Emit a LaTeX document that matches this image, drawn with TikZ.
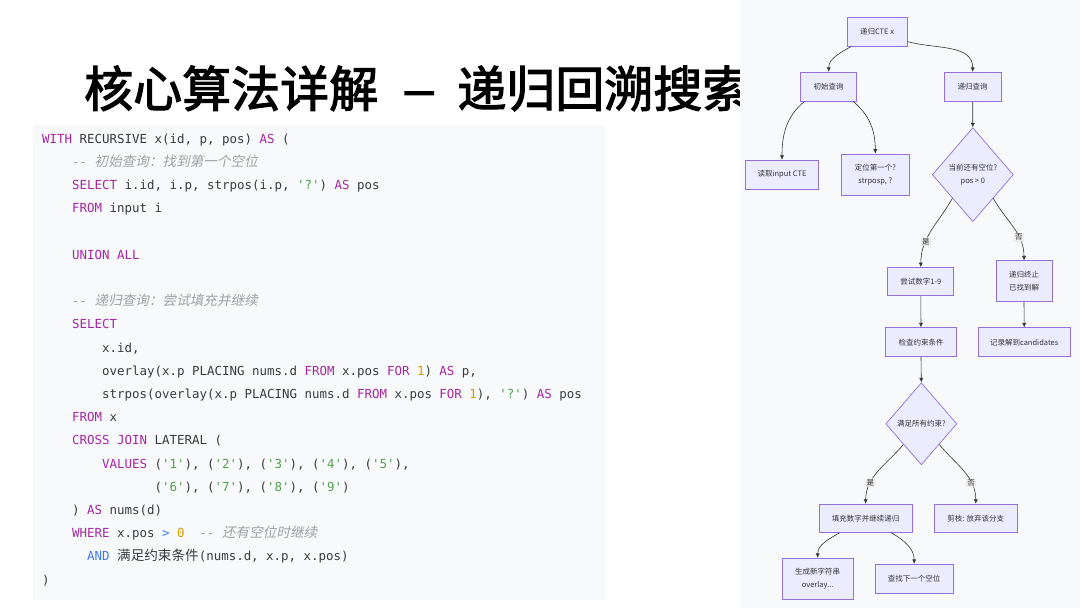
\documentclass[tikz,border=0pt]{standalone}
\usepackage{fontspec}
\usepackage{xcolor}
\setmonofont{DejaVu Sans Mono}
\newfontfamily\cjkfont{Noto Sans CJK SC}
\newfontfamily\cjkslant{Noto Sans CJK SC}[FakeSlant=0.2]
\newfontfamily\titlefont{Noto Sans CJK SC}[FakeBold=2.4]
\usetikzlibrary{arrows.meta,shapes.geometric}

\definecolor{kwcol}{HTML}{A626A4}
\definecolor{strcol}{HTML}{50A14F}
\definecolor{numcol}{HTML}{D49A00}
\definecolor{opcol}{HTML}{4078F2}
\definecolor{cmtcol}{HTML}{A0A1A7}
\definecolor{codetxt}{HTML}{383A42}
\definecolor{codebg}{HTML}{F8F9FA}
\definecolor{flowbg}{HTML}{F8F9FB}
\definecolor{nodefill}{HTML}{ECECFF}
\definecolor{nodeline}{HTML}{9370DB}
\definecolor{edgecol}{HTML}{333333}
\definecolor{lblbg}{HTML}{E8E8E8}

\newcommand{\kw}[1]{\textcolor{kwcol}{#1}}
\newcommand{\cstr}[1]{\textcolor{strcol}{#1}}
\newcommand{\cnum}[1]{\textcolor{numcol}{#1}}
\newcommand{\cop}[1]{\textcolor{opcol}{#1}}
\newcommand{\cjkc}[1]{{\cjkfont\fontsize{13.6}{14}\selectfont #1}}
\newcommand{\cmt}[1]{{\color{cmtcol}\itshape -- {\cjkslant\fontsize{13.6}{14}\selectfont #1}}}

\tikzset{
  code/.style={anchor=base west, inner sep=0pt, text=codetxt,
    font=\ttfamily\fontsize{12.45}{14}\selectfont},
  box/.style={draw=nodeline, fill=nodefill, line width=0.7pt, inner sep=1pt,
    align=center, text=edgecol, minimum height=29pt,
    font=\cjkfont\fontsize{7.5}{13}\selectfont},
  decide/.style={box, diamond, inner sep=0pt},
  edge/.style={draw=edgecol, line width=0.6pt, -{Latex[length=4.5pt,width=4pt]}},
  lbl/.style={fill=lblbg, fill opacity=0.8, text opacity=1, inner sep=1.2pt,
    text=edgecol, font=\cjkfont\fontsize{7.5}{8}\selectfont},
}

\begin{document}
\begin{tikzpicture}[x=1pt,y=1pt]
  \useasboundingbox (0,0) rectangle (1080,-608);
  \fill[white] (0,0) rectangle (1080,-608);

  % title
  \node[anchor=base west, inner sep=0pt, font=\titlefont\fontsize{49}{55}\selectfont]
    (title) at (84,-107) {核心算法详解\hspace{24pt}\scalebox{1.3}[1]{–}\hspace{21pt}递归回溯搜索};

  % code block
  \fill[codebg] (33,-125) rectangle (605,-600);
  \node[code] (l1)  at (42,-143.3)  {\kw{WITH} RECURSIVE x(id, p, pos) \kw{AS} (};
  \node[code] (l2)  at (72,-166.5)  {\cmt{初始查询：找到第一个空位}};
  \node[code] (l3)  at (72,-189.7)  {\kw{SELECT} i.id, i.p, strpos(i.p, \cstr{'?'}) \kw{AS} pos};
  \node[code] (l4)  at (72,-212.9)  {\kw{FROM} input i};
  \node[code] (l6)  at (72,-259.3)  {\kw{UNION ALL}};
  \node[code] (l8)  at (72,-305.7)  {\cmt{递归查询：尝试填充并继续}};
  \node[code] (l9)  at (72,-328.9)  {\kw{SELECT}};
  \node[code] (l10) at (102,-352.1) {x.id,};
  \node[code] (l11) at (102,-375.3) {overlay(x.p PLACING nums.d \kw{FROM} x.pos \kw{FOR} \cnum{1}) \kw{AS} p,};
  \node[code] (l12) at (102,-398.5) {strpos(overlay(x.p PLACING nums.d \kw{FROM} x.pos \kw{FOR} \cnum{1}), \cstr{'?'}) \kw{AS} pos};
  \node[code] (l13) at (72,-421.7)  {\kw{FROM} x};
  \node[code] (l14) at (72,-444.9)  {\kw{CROSS JOIN} LATERAL (};
  \node[code] (l15) at (102,-468.1) {\kw{VALUES} (\cstr{'1'}), (\cstr{'2'}), (\cstr{'3'}), (\cstr{'4'}), (\cstr{'5'}),};
  \node[code] (l16) at (154.5,-491.3) {(\cstr{'6'}), (\cstr{'7'}), (\cstr{'8'}), (\cstr{'9'})};
  \node[code] (l17) at (72,-514.5)  {) \kw{AS} nums(d)};
  \node[code] (l18) at (72,-537.7)  {\kw{WHERE} x.pos \cop{>} \cnum{0}\ \ \cmt{还有空位时继续}};
  \node[code] (l19) at (87,-560.9)  {\cop{AND} \cjkc{满足约束条件}(nums.d, x.p, x.pos)};
  \node[code] (l20) at (42,-584.1)  {)};

  % flowchart
  \fill[flowbg] (740,0) rectangle (1080,-608);
  \node[box, minimum width=60pt] (cte)  at (877,-31.7)    {递归CTE x};
  \node[box, minimum width=56pt] (init) at (828.7,-86.7)  {初始查询};
  \node[box, minimum width=57pt] (rec)  at (972.7,-86.7)  {递归查询};
  \node[box, minimum width=73pt] (read) at (782,-174.7)   {读取input CTE};
  \node[box, minimum width=68pt, minimum height=41pt] (loc) at (875.3,-174.5) {定位第一个?\\strposp, ?};
  \node[decide, minimum width=81pt, minimum height=94pt] (d1) at (972.8,-174.7) {当前还有空位?\\pos > 0};
  \node[box, minimum width=66pt, minimum height=28pt] (try)  at (920.8,-281.5) {尝试数字1-9};
  \node[box, minimum width=56pt, minimum height=41pt] (stop) at (1024,-281.3)  {递归终止\\已找到解};
  \node[box, minimum width=71pt] (chk)    at (921,-342.3)    {检查约束条件};
  \node[box, minimum width=92pt] (record) at (1024.2,-342.3) {记录解到candidates};
  \node[decide, minimum width=71pt, minimum height=82pt] (d2) at (921.3,-423.8) {满足所有约束?};
  \node[box, minimum width=93pt, minimum height=28pt] (fill)  at (865.7,-518.2) {填充数字并继续递归};
  \node[box, minimum width=83pt, minimum height=28pt] (prune) at (975.8,-518.2) {剪枝: 放弃该分支};
  \node[box, minimum width=71pt, minimum height=41pt] (gen)   at (817.7,-578.8) {生成新字符串\\overlay...};
  \node[box, minimum width=78pt] (find) at (914.2,-578.8) {查找下一个空位};

  \draw[edge] ([xshift=-26pt]cte.south) to[out=-150,in=90] (init.north);
  \draw[edge] ([yshift=5pt]cte.south east) to[out=-16,in=90] (rec.north);
  \draw[edge] ([xshift=-24.4pt]init.south) to[out=-140,in=90] (read.north);
  \draw[edge] ([xshift=24.6pt]init.south) to[out=-40,in=90] (loc.north);
  \draw[edge] (rec.south) -- (d1.north);
  \draw[edge] (d1.south west) to[out=-120,in=90] node[lbl, pos=0.66] {是} (try.north);
  \draw[edge] (d1.south east) to[out=-60,in=90] node[lbl, pos=0.66] {否} (stop.north);
  \draw[edge] (try.south) -- (chk.north);
  \draw[edge] (stop.south) -- (record.north);
  \draw[edge] (chk.south) -- (d2.north);
  \draw[edge] (d2.south west) to[out=-130,in=90] node[lbl, pos=0.7] {是} (fill.north);
  \draw[edge] (d2.south east) to[out=-50,in=90] node[lbl, pos=0.7] {否} (prune.north);
  \draw[edge] ([xshift=-25.7pt]fill.south) to[out=-150,in=90] (gen.north);
  \draw[edge] ([xshift=25.3pt]fill.south) to[out=-30,in=90] (find.north);
\end{tikzpicture}
\end{document}
